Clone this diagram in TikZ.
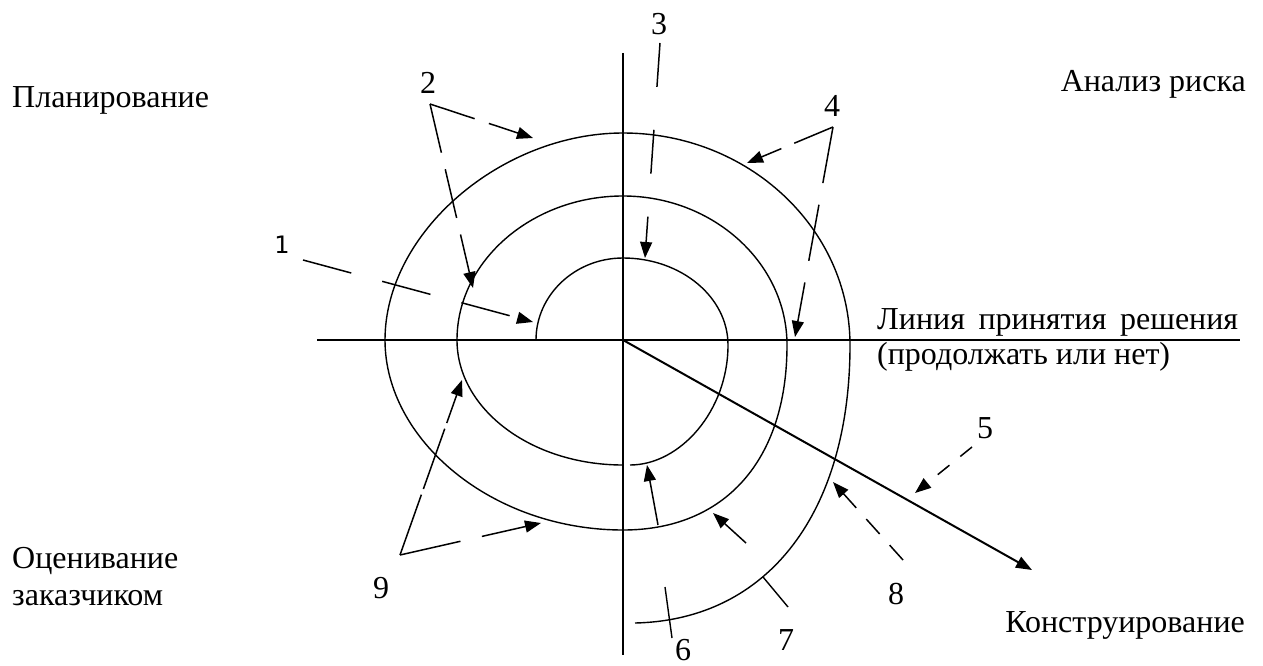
\documentclass[tikz,border=0pt]{standalone}
\usepackage{fontspec}
\setmainfont{Liberation Serif}
\newfontfamily\numsans{DejaVu Sans}
\usetikzlibrary{arrows.meta}

\begin{document}
\begin{tikzpicture}[x=1pt, y=-1pt,
  phase/.style={font=\fontsize{32}{37}\selectfont, inner sep=0pt},
  num/.style={font=\fontsize{32}{37}\selectfont, inner sep=0pt, anchor=base},
  curve/.style={line width=1.4pt},
  ptr/.style={line width=1.5pt, -{Triangle[length=16pt, width=12pt]}}
]
\useasboundingbox[fill=white] (0,0) rectangle (1263,666);

% axes
\coordinate (west) at (317,340);
\coordinate (east) at (1240,340);
\coordinate (north) at (623,53);
\coordinate (south) at (623,655);
\coordinate (origin) at (623,340);
\draw[curve] (west) -- (east);
\draw[curve] (north) -- (south);

% spiral
\draw[curve] (536,340) .. controls (536,295) and (575,258) .. (623,258)
  .. controls (681,258) and (728,297) .. (728,345)
  .. controls (728,411) and (680,465) .. (630,465);
\draw[curve] (623,465) .. controls (531,465) and (457,409) .. (457,340)
  .. controls (457,261) and (532,196) .. (623,196)
  .. controls (713,196) and (787,263) .. (787,345)
  .. controls (787,460) and (725,530) .. (623,530)
  .. controls (492,530) and (385,440) .. (385,340)
  .. controls (385,232) and (502,133) .. (623,133)
  .. controls (748,133) and (850,228) .. (850,345)
  .. controls (850,510) and (770,620) .. (635,623);

% quadrant names
\node[phase, anchor=base west] (planning) at (12,108) {Планирование};
\node[phase, anchor=base east] (risk) at (1246,92) {Анализ риска};
\node[phase, anchor=north west, align=left] (evaluation) at (12,547)
  {Оценивание\\заказчиком};
\node[phase, anchor=base east] (construction) at (1245,632) {Конструирование};
\node[phase, anchor=north west, align=left, font=\fontsize{32}{35}\selectfont]
  (decision) at (877,308)
  {\makebox[361pt][s]{Линия принятия решения}\\(продолжать или нет)};

% numbers
\node[num, font=\numsans\fontsize{24}{28}\selectfont] (n1) at (282,253) {1};
\node[num] (n2) at (428,94) {2};
\node[num] (n3) at (659,35) {3};
\node[num] (n4) at (832,117) {4};
\node[num] (n5) at (985,438) {5};
\node[num] (n6) at (683,660) {6};
\node[num] (n7) at (786,650) {7};
\node[num] (n8) at (896,604) {8};
\node[num] (n9) at (381,598) {9};

% pointer ends
\coordinate (s1) at (303,260);   \coordinate (t1) at (533,322);
\coordinate (s2) at (430,104);   \coordinate (t2a) at (533,138);
\coordinate (t2b) at (473,288);
\coordinate (s3) at (660,43);    \coordinate (t3) at (645,258);
\coordinate (s4) at (833,127);   \coordinate (t4a) at (747,163);
\coordinate (t4b) at (795,337);
\coordinate (s5) at (972,447);   \coordinate (t5) at (915,493);
\coordinate (s6) at (665,587);   \coordinate (t6) at (672,638);
\coordinate (s7) at (763,577);   \coordinate (t7) at (788,607);
\coordinate (s8) at (903,560);   \coordinate (t8) at (833,482);
\coordinate (s9) at (400,555);   \coordinate (t9a) at (462,380);
\coordinate (t9b) at (541,523);
\coordinate (sa) at (658,525);   \coordinate (ta) at (647,465);
\coordinate (sb) at (746,543);   \coordinate (tb) at (713,513);
\coordinate (tip) at (1032,570);

\draw[ptr, dash pattern=on 50pt off 32pt] (s1) -- (t1);
\draw[ptr, dash pattern=on 47pt off 15pt] (s2) -- (t2a);
\draw[ptr, dash pattern=on 50pt off 17pt] (s2) -- (t2b);
\draw[ptr, dash pattern=on 44pt off 43pt] (s3) -- (t3);
\draw[ptr, dash pattern=on 42pt off 14pt] (s4) -- (t4a);
\draw[ptr, dash pattern=on 57pt off 22pt] (s4) -- (t4b);
\draw[ptr, dash pattern=on 15pt off 14pt] (s5) -- (t5);
\draw[curve] (s6) -- (t6);
\draw[curve] (s7) -- (t7);
\draw[ptr, dash pattern=on 20pt off 15pt] (s8) -- (t8);
\draw[ptr, dash pattern=on 64pt off 6pt] (s9) -- (t9a);
\draw[ptr, dash pattern=on 62pt off 22pt] (s9) -- (t9b);
\draw[ptr] (sa) -- (ta);
\draw[ptr] (sb) -- (tb);
\draw[ptr, line width=2pt] (origin) -- (tip);
\end{tikzpicture}
\end{document}
